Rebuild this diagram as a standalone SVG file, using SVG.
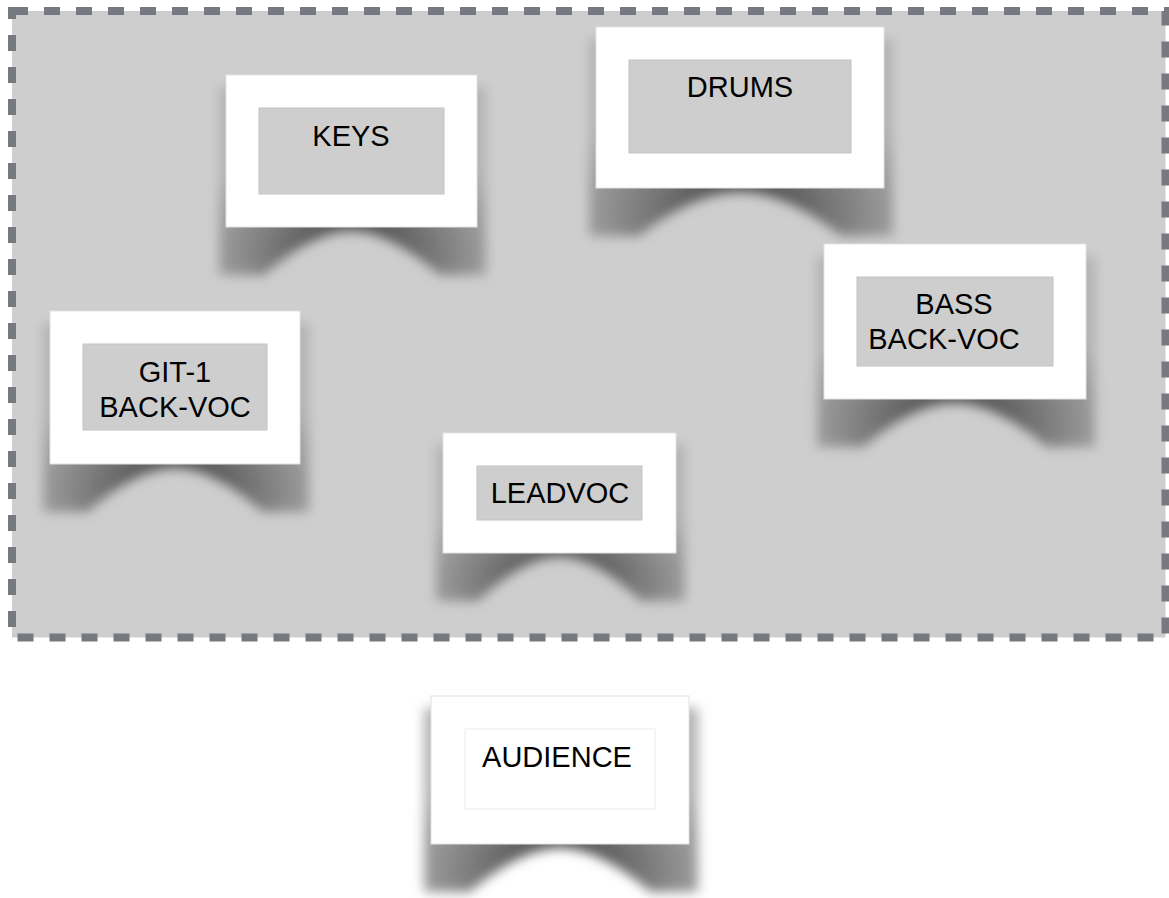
<svg xmlns="http://www.w3.org/2000/svg" width="1169" height="898" viewBox="0 0 1169 898">
<style>
.card{fill:#ffffff;stroke:#e2e2e2;stroke-width:1}
.slot{fill:#cecece;stroke:#c4c4c4;stroke-width:1}
.slot-w{fill:#ffffff;stroke:#ececec;stroke-width:1}
.lbl{font-family:"Liberation Sans",Arial,Helvetica,sans-serif;font-size:29px;fill:#000;text-anchor:middle}
.shd{fill:url(#shg);filter:url(#blur)}
</style>
<defs>
<filter id="blur" x="-15%" y="-15%" width="130%" height="130%">
<feGaussianBlur stdDeviation="6"/>
</filter>
<radialGradient id="shg" cx="0.5" cy="0.88" r="0.62">
<stop offset="0" stop-color="#3a3a3a"/>
<stop offset="0.45" stop-color="#737373"/>
<stop offset="1" stop-color="#b2b2b2"/>
</radialGradient>
</defs>
<rect id="stage" x="12" y="11" width="1153.5" height="626.5" fill="#cecece" stroke="#767980" stroke-width="8" stroke-dasharray="16 16"/>
<g id="connectors"/>
<g id="node-keys">
<path class="shd" d="M219,87 L219,275 L263.7,275 C290,252 322,231 351.5,231 C381,231 413,252 439.4,275 L486,275 L486,87 Z"/>
<rect class="card" x="226" y="75" width="251" height="152"/>
<rect class="slot" x="259" y="108" width="185" height="86"/>
<text class="lbl" x="351" y="146">KEYS</text>
</g>
<g id="node-drums">
<path class="shd" d="M589,39 L589,236 L639.2,236 C669,212 706,192 740,192 C774,192 811,212 840.8,236 L893,236 L893,39 Z"/>
<rect class="card" x="596" y="27" width="288" height="161"/>
<rect class="slot" x="629" y="60" width="222" height="93"/>
<text class="lbl" x="740" y="97">DRUMS</text>
</g>
<g id="node-bass">
<path class="shd" d="M817,256 L817,447 L863.3,447 C890,424 924,403 955,403 C986,403 1020,424 1046.7,447 L1095,447 L1095,256 Z"/>
<rect class="card" x="824" y="244" width="262" height="155"/>
<rect class="slot" x="857" y="277" width="196" height="89"/>
<text class="lbl" x="954" y="314">BASS</text>
<text class="lbl" x="944" y="348.5">BACK-VOC</text>
</g>
<g id="node-git1">
<path class="shd" d="M43,323 L43,512 L87.5,512 C113,489 146,468 175,468 C204,468 237,489 262.5,512 L309,512 L309,323 Z"/>
<rect class="card" x="50" y="311" width="250" height="153"/>
<rect class="slot" x="83" y="344" width="184" height="86"/>
<text class="lbl" x="175" y="382">GIT-1</text>
<text class="lbl" x="175" y="416.7">BACK-VOC</text>
</g>
<g id="node-leadvoc">
<path class="shd" d="M436,445 L436,601 L478,601 C502,578 532,557 559.5,557 C587,557 617,578 641,601 L685,601 L685,445 Z"/>
<rect class="card" x="443" y="433" width="233" height="120"/>
<rect class="slot" x="477" y="466" width="165" height="54"/>
<text class="lbl" x="560" y="503">LEADVOC</text>
</g>
<g id="node-audience">
<path class="shd" d="M424,708 L424,892 L469.7,892 C496,869 530,848 560,848 C590,848 624,869 650.3,892 L698,892 L698,708 Z"/>
<rect class="card" x="431" y="696" width="258" height="148"/>
<rect class="slot-w" x="465" y="729" width="190" height="80"/>
<text class="lbl" x="557" y="767">AUDIENCE</text>
</g>
</svg>
